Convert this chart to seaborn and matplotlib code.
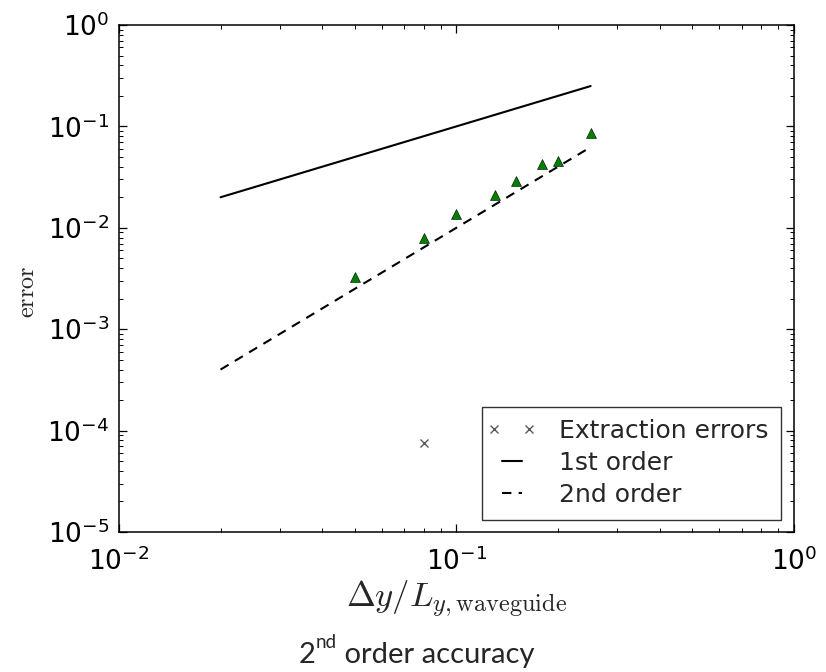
import matplotlib
matplotlib.use("Agg")
import matplotlib.pyplot as plt
from matplotlib.legend_handler import HandlerLine2D
import seaborn as sns
import numpy as np
import pandas as pd

# ---- data ----
dy = [0.05, 0.08, 0.10, 0.13, 0.15, 0.18, 0.20, 0.25]
err = [0.0033, 0.0079, 0.0137, 0.021, 0.029, 0.0426, 0.0456, 0.086]
extract_x = [0.08]
extract_err = [7.55e-5]
ref_x = [0.02, 0.25]
first_order = [0.02, 0.25]
second_order = [0.0004, 0.0625]

sns.set_style("ticks")
plt.rcParams["font.family"] = ["DejaVu Sans"]
plt.rcParams["mathtext.fontset"] = "cm"
plt.rcParams["axes.unicode_minus"] = False

fig = plt.figure(figsize=(8.26, 6.72), dpi=100)
ax = fig.add_axes([0.144, 0.2083, 0.817, 0.7545])

sns.lineplot(x=extract_x, y=extract_err, ax=ax, marker="x", linestyle="none",
             color="0.35", markeredgecolor="0.35", markersize=6,
             markeredgewidth=1.0, label="Extraction errors")
sns.lineplot(x=ref_x, y=first_order, ax=ax, color="black", linewidth=1.5,
             label="1st order")
sns.lineplot(x=ref_x, y=second_order, ax=ax, color="black", linewidth=1.5,
             linestyle=(0, (4.5, 3.5)), label="2nd order")
sns.lineplot(x=dy, y=err, ax=ax, marker="^", linestyle="none",
             color="green", markeredgecolor="black", markeredgewidth=0.4,
             markersize=7.8, label="_nolegend_")

ax.set_xscale("log")
ax.set_yscale("log")
ax.set_xlim(1e-2, 1e0)
ax.set_ylim(1e-5, 1e0)

for s in ax.spines.values():
    s.set_visible(True)
    s.set_linewidth(1.1)
    s.set_color("black")

ax.tick_params(which="both", direction="in", top=True, right=True,
               labelsize=19, colors="black")
ax.tick_params(which="major", length=6, width=0.9, pad=7)
ax.tick_params(axis="x", which="major", pad=11)
ax.tick_params(which="minor", length=3, width=0.7)

ax.set_xlabel(r"$\Delta y/L_{y,\mathrm{waveguide}}$", fontsize=25, labelpad=2)
ax.set_ylabel(r"$\mathrm{error}$", fontsize=17.5)
ax.yaxis.set_label_coords(-0.118, 0.475)

handles, labels = ax.get_legend_handles_labels()
hmap = {handles[0]: HandlerLine2D(numpoints=2, marker_pad=0.0)}
leg = ax.legend(handles, labels, loc="lower right", fontsize=18, numpoints=2,
                fancybox=False, frameon=True, borderaxespad=0.5,
                handlelength=1.4, labelspacing=0.32, borderpad=0.5,
                handletextpad=1.2, handler_map=hmap)
leg.get_frame().set_edgecolor("black")
leg.get_frame().set_linewidth(1.0)

# caption "2nd order accuracy" with superscript
fig.canvas.draw()
r = fig.canvas.get_renderer()
cap_font = "Lato"
cap_y = 0.014
t1 = fig.text(0.361, cap_y, "2", fontsize=21, family=cap_font, ha="left", va="baseline")
bb1 = t1.get_window_extent(r)
x2 = bb1.x1 / fig.bbox.width
t2 = fig.text(x2 + 0.001, cap_y + 0.021, "nd", fontsize=13.5, family=cap_font,
              ha="left", va="baseline")
bb2 = t2.get_window_extent(r)
x3 = bb2.x1 / fig.bbox.width
fig.text(x3, cap_y, " order accuracy", fontsize=21, family=cap_font,
         ha="left", va="baseline")

fig.savefig("out.png", dpi=100)
